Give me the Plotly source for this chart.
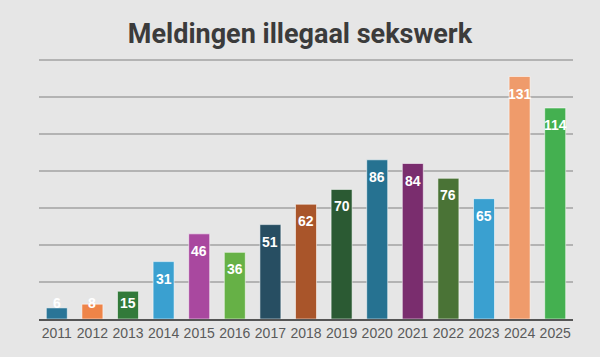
import plotly.graph_objects as go

years = ["2011", "2012", "2013", "2014", "2015", "2016", "2017", "2018",
         "2019", "2020", "2021", "2022", "2023", "2024", "2025"]
values = [6, 8, 15, 31, 46, 36, 51, 62, 70, 86, 84, 76, 65, 131, 114]
colors = ["#2A7597", "#EE8448", "#327A3A", "#3AA0D0", "#A9489F", "#66B146",
          "#274E62", "#A9552A", "#2B5A33", "#267291", "#7A2D6E", "#4A7336",
          "#3AA0D0", "#EF9B6B", "#44B050"]

fig = go.Figure()
fig.add_trace(go.Bar(
    x=years, y=values,
    marker=dict(color=colors, line=dict(color="rgba(255,255,255,0.55)", width=1)),
    hoverinfo="x+y",
))

for i, v in enumerate(values):
    fig.add_annotation(
        x=i, y=max(v, 18), yshift=-17, text=str(v), showarrow=False,
        font=dict(family="Liberation Sans, Arial", size=14, color="white", weight="bold"),
        yanchor="middle", xanchor="center",
    )

fig.update_layout(
    width=600, height=357,
    margin=dict(l=39, r=27, t=58, b=38),
    paper_bgcolor="#E6E6E6",
    plot_bgcolor="#E6E6E6",
    bargap=0.41,
    showlegend=False,
    title=dict(
        text="Meldingen illegaal sekswerk",
        x=0.5, xanchor="center", y=0.905, yanchor="middle",
        font=dict(family="Roboto", size=27, color="#3B3B3B", weight="bold"),
    ),
    xaxis=dict(
        type="category", range=[-0.5, len(years) - 0.5],
        tickfont=dict(family="Liberation Sans, Arial", size=14, color="#5A5A5A"),
        showline=True, linecolor="#555555", linewidth=2,
        ticks="", showgrid=False,
    ),
    yaxis=dict(
        range=[0, 141], tick0=0, dtick=20, showticklabels=False,
        showgrid=True, gridcolor="#B3B3B3", gridwidth=1.5,
        zeroline=False, showline=False, ticks="",
    ),
)

fig.write_html("out.html", config={"displayModeBar": False},
               post_script="document.body.style.margin='0';document.body.style.background='#E6E6E6';")
